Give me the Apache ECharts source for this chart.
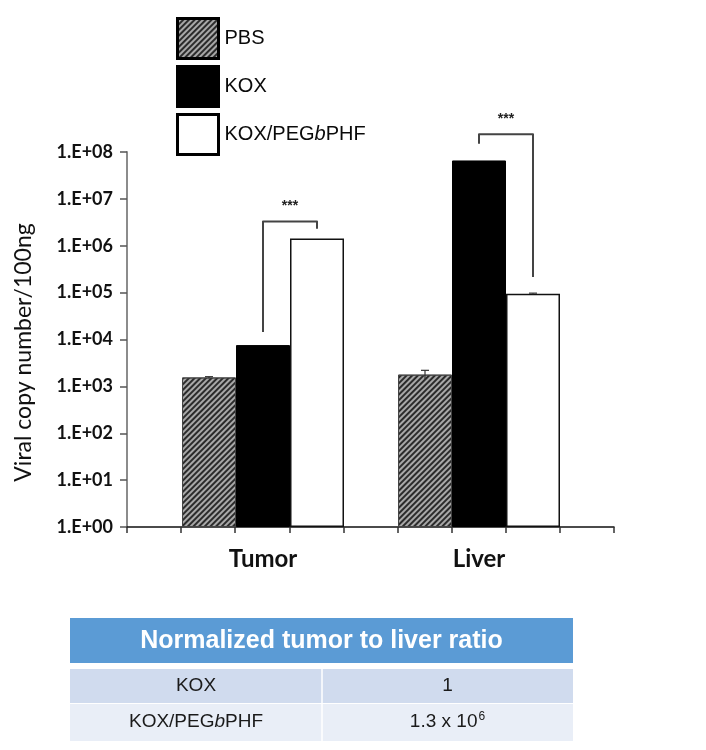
<!DOCTYPE html>
<html>
<head>
<meta charset="utf-8">
<script src="https://cdn.jsdelivr.net/npm/echarts@6/dist/echarts.min.js"></script>
<style>
html,body{margin:0;padding:0;background:#fff;}
#chart{width:706px;height:750px;}
</style>
</head>
<body>
<div id="chart"></div>
<script>
// ---------- data ----------
var categories = ['Tumor', 'Liver'];
var seriesNames = ['PBS', 'KOX', 'KOX/PEGbPHF'];
var pbsValues = [1550, 1780];
var koxValues = [7600, 66000000];
var pegValues = [1420000, 95000];
var pbsErr = [60, 420];
var koxErr = [0, 0];
var pegErr = [0, 2500];
// significance brackets (per category): bar from / bar to, bracket end levels
var bracketFrom = [1, 1];
var bracketTo = [2, 2];
var bracketLeftEnd = [14500, 150000000];
var bracketTop = [3300000, 240000000];
var bracketRightEnd = [2300000, 215000];
var bracketLabel = ['***', '***'];
var yTicks = [1, 10, 100, 1000, 10000, 100000, 1000000, 10000000, 100000000];
// table
var tableTitle = 'Normalized tumor to liver ratio';
var tableRowNames = ['KOX', 'KOX/PEGbPHF'];
var tableRowValues = ['1', '1.3 x 10^6'];

// ---------- build ----------
var allValues = [pbsValues, koxValues, pegValues];
var allErr = [pbsErr, koxErr, pegErr];
var errData = [];
for (var s = 0; s < 3; s++) {
  for (var c = 0; c < categories.length; c++) {
    if (allErr[s][c] > 0) errData.push([c, s, allValues[s][c], allErr[s][c]]);
  }
}
var brData = [];
for (var c = 0; c < categories.length; c++) {
  brData.push([c, bracketFrom[c], bracketTo[c], bracketLeftEnd[c], bracketTop[c], bracketRightEnd[c]]);
}
var BAR_FRAC = 0.25; // bar width as fraction of category band (barCategoryGap 25%, 3 bars)
function barX(api, cat, s, val) {
  var p = api.coord([cat, val]);
  var band = api.size([1, 0])[0];
  return p[0] + (s - 1) * band * BAR_FRAC;
}
function legendName(n) {
  if (n.indexOf('PEGbPHF') >= 0) return '{n|' + n.replace('PEGbPHF', 'PEG') + '}{i|b}{n|PHF}';
  return '{n|' + n + '}';
}

var chart = echarts.init(document.getElementById('chart'), null, {renderer: 'canvas'});

var GT = 152, GH = 375;
var hatch = {
  symbol: 'rect', symbolSize: 1, color: '#2b2b2b',
  dashArrayX: [1, 0], dashArrayY: [2, 2], rotation: -Math.PI / 4
};

// table graphics
var tX = 70, tW = 503, colX = 322;
var graphics = [
  {type: 'rect', shape: {x: tX, y: 618, width: tW, height: 45}, style: {fill: '#5b9bd5'}},
  {type: 'text', x: tX + tW / 2, y: 641, style: {text: tableTitle, fill: '#fff', font: 'bold 25px "Liberation Sans", Arial, sans-serif', textAlign: 'center', textVerticalAlign: 'middle'}},
  {type: 'rect', shape: {x: tX, y: 669, width: tW, height: 34}, style: {fill: '#d0dbee'}},
  {type: 'rect', shape: {x: tX, y: 704, width: tW, height: 37}, style: {fill: '#e9eef7'}},
  {type: 'line', shape: {x1: colX, y1: 669, x2: colX, y2: 741}, style: {stroke: '#fff', lineWidth: 1.5}}
];
var rowCY = [686, 722];
var rowFont = '19px "Liberation Sans", Arial, sans-serif';
for (var r = 0; r < tableRowNames.length; r++) {
  var nm = tableRowNames[r];
  var rt = nm.indexOf('PEGbPHF') >= 0 ? '{n|' + nm.replace('PEGbPHF', 'PEG') + '}{i|b}{n|PHF}' : '{n|' + nm + '}';
  graphics.push({type: 'text', x: (tX + colX) / 2, y: rowCY[r], style: {
    text: rt, align: 'center', verticalAlign: 'middle',
    rich: {n: {font: rowFont, fill: '#1a1a1a'}, i: {font: 'italic ' + rowFont, fill: '#1a1a1a'}}
  }});
  var v = tableRowValues[r];
  var vt;
  if (v.indexOf('^') >= 0) {
    var parts = v.split('^');
    vt = '{n|' + parts[0] + '}{s|' + parts[1] + '}';
  } else vt = '{n|' + v + '}';
  graphics.push({type: 'text', x: (colX + tX + tW) / 2, y: rowCY[r], style: {
    text: vt, align: 'center', verticalAlign: 'middle',
    rich: {n: {font: rowFont, fill: '#1a1a1a', lineHeight: 22}, s: {font: '12px "Liberation Sans", Arial, sans-serif', fill: '#1a1a1a', verticalAlign: 'top', lineHeight: 22, padding: [0, 0, 8, 1]}}
  }});
}

var option = {
  animation: false,
  backgroundColor: '#fff',
  graphic: graphics,
  legend: {
    data: seriesNames,
    orient: 'vertical',
    left: 171, top: 12,
    itemWidth: 41, itemHeight: 40, itemGap: 5,
    icon: 'rect',
    itemStyle: {borderColor: '#000', borderWidth: 3},
    formatter: legendName,
    textStyle: {
      padding: [0, 0, 0, 1],
      rich: {
        n: {fontFamily: '"Liberation Sans", Arial, sans-serif', fontSize: 20, color: '#0a0a0a'},
        i: {fontFamily: '"Liberation Sans", Arial, sans-serif', fontSize: 20, fontStyle: 'italic', color: '#0a0a0a'}
      }
    },
    selectedMode: false
  },
  grid: [
    {left: 155, top: GT, width: 432, height: GH},
    {left: 127, top: GT, width: 487, height: GH}
  ],
  xAxis: [
    {
      type: 'category', gridIndex: 0, data: categories,
      axisLine: {show: false}, axisTick: {show: false},
      axisLabel: {margin: 20, fontFamily: 'Lato, "Open Sans", sans-serif', fontWeight: 'bold', fontSize: 24, color: '#111'}
    },
    {
      type: 'value', gridIndex: 1, min: 0, max: 9, interval: 1,
      axisLine: {show: true, lineStyle: {color: '#111', width: 1.5}},
      axisTick: {show: true, length: 6, lineStyle: {color: '#333', width: 1.5}},
      axisLabel: {show: false}, splitLine: {show: false}
    }
  ],
  yAxis: [
    {type: 'log', gridIndex: 0, logBase: 10, min: 1, max: 100000000, show: false, splitLine: {show: false}},
    {
      type: 'log', gridIndex: 1, logBase: 10, min: 1, max: 100000000, interval: 1,
      name: 'Viral copy number/100ng', nameLocation: 'middle', nameGap: 92, nameRotate: 90,
      nameTextStyle: {fontFamily: 'Lato, "Open Sans", sans-serif', fontSize: 23, color: '#111', padding: [0, 26, 0, 0]},
      axisLine: {show: true, lineStyle: {color: '#8c8c8c', width: 2}},
      axisTick: {show: true, length: 7, lineStyle: {color: '#555', width: 1.5}},
      splitLine: {show: false},
      axisLabel: {
        margin: 14,
        fontFamily: 'Lato, "Open Sans", sans-serif', fontWeight: 'bold', fontSize: 18, color: '#111',
        formatter: function (v) {
          var e = Math.round(Math.log10(v));
          return '1.E+' + (e < 10 ? '0' : '') + e;
        }
      }
    }
  ],
  series: [
    {
      name: seriesNames[0], type: 'bar', xAxisIndex: 0, yAxisIndex: 0,
      data: pbsValues, barGap: '0%', barCategoryGap: '25%',
      itemStyle: {color: '#a8a8a8', borderColor: '#444', borderWidth: 1, decal: hatch}
    },
    {
      name: seriesNames[1], type: 'bar', xAxisIndex: 0, yAxisIndex: 0,
      data: koxValues, barGap: '0%', barCategoryGap: '25%',
      itemStyle: {color: '#000', borderColor: '#000', borderWidth: 1}
    },
    {
      name: seriesNames[2], type: 'bar', xAxisIndex: 0, yAxisIndex: 0,
      data: pegValues, barGap: '0%', barCategoryGap: '25%',
      itemStyle: {color: '#fff', borderColor: '#111', borderWidth: 1.5}
    },
    {
      type: 'custom', xAxisIndex: 0, yAxisIndex: 0, clip: false, z: 5,
      data: errData,
      renderItem: function (params, api) {
        var c = api.value(0), s = api.value(1), v = api.value(2), e = api.value(3);
        var x = barX(api, c, s, v);
        var yTop = api.coord([c, v + e])[1];
        var yBot = api.coord([c, Math.max(v - e, 1)])[1];
        var cap = 4;
        var st = {stroke: '#333', lineWidth: 1.2};
        return {type: 'group', children: [
          {type: 'line', shape: {x1: x, y1: yTop, x2: x, y2: yBot}, style: st},
          {type: 'line', shape: {x1: x - cap, y1: yTop, x2: x + cap, y2: yTop}, style: st}
        ]};
      }
    },
    {
      type: 'custom', xAxisIndex: 0, yAxisIndex: 0, clip: false, z: 5,
      data: brData,
      renderItem: function (params, api) {
        var c = api.value(0), sf = api.value(1), stt = api.value(2);
        var xl = barX(api, c, sf, 1), xr = barX(api, c, stt, 1);
        var yl = api.coord([c, api.value(3)])[1];
        var yt = api.coord([c, api.value(4)])[1];
        var yr = api.coord([c, api.value(5)])[1];
        var st = {stroke: '#444', lineWidth: 2, fill: null, lineJoin: 'round'};
        return {type: 'group', children: [
          {type: 'polyline', shape: {points: [[xl, yl], [xl, yt], [xr, yt], [xr, yr]]}, style: st},
          {type: 'text', x: (xl + xr) / 2, y: yt - 15, style: {
            text: bracketLabel[params.dataIndex], fill: '#222',
            font: 'bold 14px "Liberation Sans", Arial, sans-serif', textAlign: 'center', textVerticalAlign: 'middle'
          }}
        ]};
      }
    }
  ]
};
chart.setOption(option);
</script>
</body>
</html>
